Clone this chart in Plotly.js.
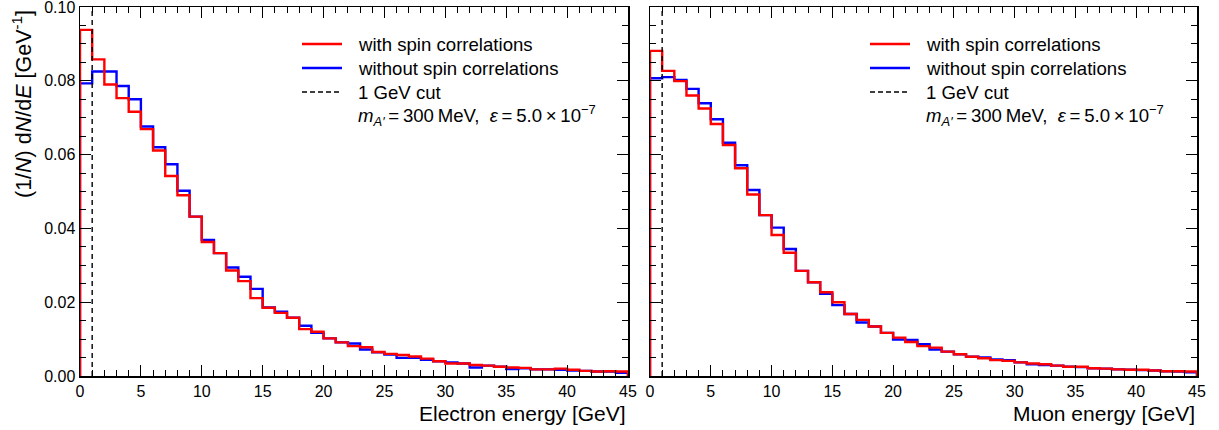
<!DOCTYPE html>
<html>
<head>
<meta charset="utf-8">
<script src="https://cdn.plot.ly/plotly-3.0.1.min.js"></script>
<style>html,body{margin:0;padding:0;background:#fff;}#chart{width:1219px;height:430px;}</style>
</head>
<body>
<div id="chart"></div>
<script>
// Bin edges (GeV), 1 GeV bins from 0 to 45
const binEdges = [0,1,2,3,4,5,6,7,8,9,10,11,12,13,14,15,16,17,18,19,20,21,22,23,24,25,26,27,28,29,30,31,32,33,34,35,36,37,38,39,40,41,42,43,44,45];

// Electron energy, normalised (1/N) dN/dE per bin
const electronWithSpin = [0.0938,0.0858,0.0790,0.0753,0.0716,0.0669,0.0611,0.0542,0.0490,0.0432,
  0.0363,0.0333,0.0286,0.0257,0.0211,0.0185,0.0171,0.0158,0.0127,0.0120,
  0.0102,0.0091,0.0081,0.0078,0.0065,0.0060,0.0057,0.0053,0.0047,0.0040,
  0.0034,0.0034,0.0030,0.0028,0.0025,0.0023,0.0022,0.0018,0.0018,0.0020,
  0.0017,0.0014,0.0012,0.0013,0.0012];
const electronWithoutSpin = [0.0793,0.0825,0.0825,0.0786,0.0750,0.0676,0.0620,0.0574,0.0502,0.0432,
  0.0369,0.0333,0.0294,0.0269,0.0236,0.0186,0.0174,0.0158,0.0136,0.0117,
  0.0102,0.0091,0.0088,0.0072,0.0064,0.0058,0.0049,0.0049,0.0044,0.0040,
  0.0037,0.0034,0.0023,0.0028,0.0025,0.0019,0.0021,0.0018,0.0018,0.0017,
  0.0015,0.0014,0.0012,0.0012,0.0009];

// Muon energy
const muonWithSpin = [0.0881,0.0827,0.0799,0.0760,0.0725,0.0683,0.0626,0.0563,0.0492,0.0436,
  0.0382,0.0334,0.0285,0.0254,0.0227,0.0200,0.0168,0.0152,0.0134,0.0117,
  0.0104,0.0092,0.0081,0.0077,0.0066,0.0059,0.0052,0.0048,0.0043,0.0041,
  0.0037,0.0034,0.0032,0.0028,0.0025,0.0025,0.0021,0.0020,0.0018,0.0017,
  0.0017,0.0015,0.0013,0.0013,0.0012];
const muonWithoutSpin = [0.0807,0.0810,0.0802,0.0778,0.0739,0.0696,0.0632,0.0571,0.0504,0.0436,
  0.0402,0.0344,0.0285,0.0254,0.0223,0.0192,0.0168,0.0145,0.0134,0.0117,
  0.0099,0.0098,0.0086,0.0072,0.0066,0.0059,0.0052,0.0050,0.0045,0.0043,
  0.0037,0.0032,0.0030,0.0028,0.0025,0.0024,0.0021,0.0020,0.0018,0.0017,
  0.0016,0.0015,0.0013,0.0012,0.0010];

const energyCut = 1;           // GeV
const yRange = [0, 0.1];
const xRange = [0, 45];
const xTickVals = [0,5,10,15,20,25,30,35,40,45];
const yTickVals = [0,0.02,0.04,0.06,0.08,0.1];
const yTickText = ['0.00','0.02','0.04','0.06','0.08','0.10'];

const seriesNames = ['with spin correlations','without spin correlations','1 GeV cut'];
const paramText = '<i>m</i><sub><i>A\u2032</i></sub>\u2009=\u2009300\u2009MeV,\u00a0\u00a0<i>\u03b5</i>\u2009=\u20095.0\u2009\u00d7\u200910<sup>\u22127</sup>';
const xTitles = ['Electron energy [GeV]','Muon energy [GeV]'];
const yTitle = '(1/<i>N</i>) d<i>N</i>/d<i>E</i> [GeV<sup>-1</sup>]';

const FONT = 'Liberation Sans, Arial, Helvetica, sans-serif';
const RED = '#ff0000', BLUE = '#0000ff';

function stepX(edges){ return [edges[0]].concat(edges, [edges[edges.length-1]]); }
function stepY(vals){ return [0].concat(vals, [vals[vals.length-1], 0]); }

function panelTraces(withSpin, withoutSpin, xa, ya){
  return [
    {x: stepX(binEdges), y: stepY(withoutSpin), xaxis: xa, yaxis: ya, mode:'lines',
     line:{shape:'hv', color:BLUE, width:2.4}, name: seriesNames[1], showlegend:false, hoverinfo:'skip'},
    {x: stepX(binEdges), y: stepY(withSpin), xaxis: xa, yaxis: ya, mode:'lines',
     line:{shape:'hv', color:RED, width:2.4}, name: seriesNames[0], showlegend:false, hoverinfo:'skip'},
    {x: [energyCut, energyCut], y: yRange, xaxis: xa, yaxis: ya, mode:'lines',
     line:{color:'#000000', width:1.4, dash:'5px,4px'}, name: seriesNames[2], showlegend:false, hoverinfo:'skip'}
  ];
}

const data = [].concat(
  panelTraces(electronWithSpin, electronWithoutSpin, 'x', 'y'),
  panelTraces(muonWithSpin, muonWithoutSpin, 'x2', 'y2')
);

const W = 1219, H = 430, ML = 80, MR = 22, MT = 7, MB = 54;
const PW = W - ML - MR, PH = H - MT - MB;
const px = v => (v - ML) / PW;
const py = v => (H - MB - v) / PH;

function xAxis(domain, anchor){
  return {domain: domain, anchor: anchor, range: xRange, showgrid:false, zeroline:false,
    showline:true, linecolor:'#000', linewidth:1.5, mirror:'allticks',
    ticks:'inside', ticklen:11, tickwidth:1, tickcolor:'#000',
    tickvals: xTickVals, tickfont:{family:FONT, size:16, color:'#000'},
    ticklabeloverflow:'allow',
    minor:{dtick:1, tick0:0, ticks:'inside', ticklen:6, tickwidth:1, tickcolor:'#000', showgrid:false},
    fixedrange:true};
}
function yAxis(anchor, showLabels){
  return {domain:[0,1], anchor: anchor, range: yRange, showgrid:false, zeroline:false,
    showline:true, linecolor:'#000', linewidth:1.5, mirror:'allticks',
    ticks:'inside', ticklen:11, tickwidth:1, tickcolor:'#000',
    tickvals: yTickVals, ticktext: yTickText, showticklabels: showLabels,
    tickfont:{family:FONT, size:16, color:'#000'},
    ticklabeloverflow:'allow',
    minor:{dtick:0.005, tick0:0, ticks:'inside', ticklen:6, tickwidth:1, tickcolor:'#000', showgrid:false},
    fixedrange:true};
}

const d1 = [0, px(628)], d2 = [px(650), 1];

// Manual ROOT-style legend (key samples + labels)
const legendRowsY = [44, 68, 92, 115];
const legendFont = {family:FONT, size:18.6, color:'#000'};
function legendBlock(lineX0){
  const shapes = [], ann = [];
  const keyStyles = [{color:RED, width:2.4, dash:'solid'}, {color:BLUE, width:2.4, dash:'solid'}, {color:'#000', width:1.4, dash:'5px,3px'}];
  for (let i = 0; i < 3; i++) {
    shapes.push({type:'line', xref:'paper', yref:'paper', x0:px(lineX0), x1:px(lineX0+40),
      y0:py(legendRowsY[i]), y1:py(legendRowsY[i]), line:keyStyles[i]});
  }
  const labels = seriesNames.concat([paramText]);
  for (let i = 0; i < 4; i++) {
    ann.push({text: labels[i], xref:'paper', yref:'paper', x:px(lineX0+54), y:py(legendRowsY[i]),
      xanchor:'left', yanchor:'middle', showarrow:false, font:legendFont});
  }
  return {shapes, ann};
}
const leg1 = legendBlock(302), leg2 = legendBlock(870);

const layout = {
  width: W, height: H,
  margin:{l:ML, r:MR, t:MT, b:MB, pad:0},
  paper_bgcolor:'#fff', plot_bgcolor:'#fff',
  font:{family:FONT, color:'#000'},
  showlegend:false,
  xaxis: xAxis(d1, 'y'),
  yaxis: yAxis('x', true),
  xaxis2: xAxis(d2, 'y2'),
  yaxis2: yAxis('x2', false),
  shapes: leg1.shapes.concat(leg2.shapes),
  annotations:[
    {text: yTitle, xref:'paper', yref:'paper', x: px(22), y: py(8), xanchor:'center', yanchor:'top',
     textangle:-90, showarrow:false, font:{family:FONT, size:21.5, color:'#000'}},
    {text: xTitles[0], xref:'x domain', yref:'paper', x:1, y: py(414), xanchor:'right', yanchor:'middle',
     showarrow:false, font:{family:FONT, size:21, color:'#000'}},
    {text: xTitles[1], xref:'x2 domain', yref:'paper', x:1, y: py(414), xanchor:'right', yanchor:'middle',
     showarrow:false, font:{family:FONT, size:21, color:'#000'}}
  ].concat(leg1.ann, leg2.ann)
};

Plotly.newPlot('chart', data, layout, {staticPlot:true, displayModeBar:false});
</script>
</body>
</html>
